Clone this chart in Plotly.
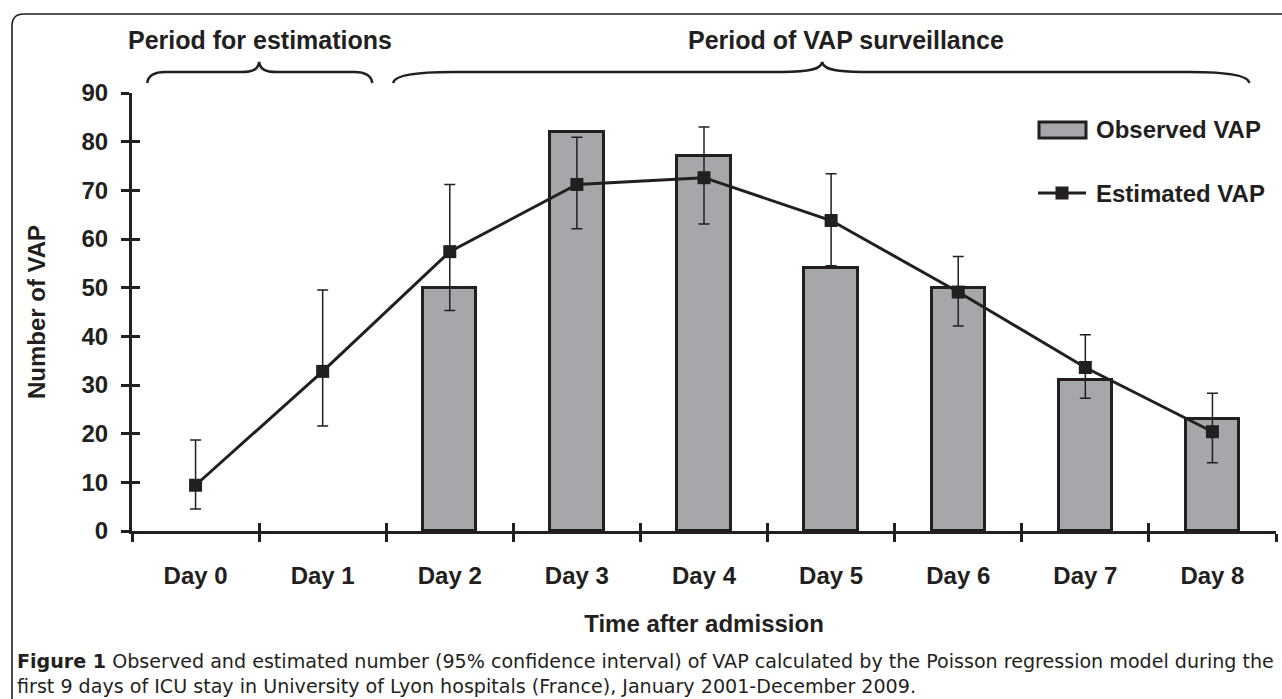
import plotly.graph_objects as go

# ---------------- data ----------------
days = ["Day 0", "Day 1", "Day 2", "Day 3", "Day 4", "Day 5", "Day 6", "Day 7", "Day 8"]
observed = [None, None, 50, 82, 77, 54, 50, 31, 23]
estimated = [9.4, 32.8, 57.4, 71.2, 72.6, 63.8, 49.1, 33.6, 20.4]
ci_lower = [4.5, 21.6, 45.3, 62.1, 63.1, 54.5, 42.1, 27.3, 14.0]
ci_upper = [18.7, 49.5, 71.2, 80.9, 83.0, 73.4, 56.4, 40.3, 28.3]
y_ticks = [0, 10, 20, 30, 40, 50, 60, 70, 80, 90]
series_names = ["Observed VAP", "Estimated VAP"]
period_labels = ["Period for estimations", "Period of VAP surveillance"]
x_title = "Time after admission"
y_title = "Number of VAP"
caption_1 = ("<b>Figure 1</b> Observed and estimated number (95% confidence interval) of VAP "
             "calculated by the Poisson regression model during the")
caption_2 = ("first 9 days of ICU stay in University of Lyon hospitals (France), "
             "January 2001-December 2009.")

# ---------------- style / geometry ----------------
W, H = 1282, 699
ML, MR, MT, MB = 132, 6, 93, 168
PW, PH = W - ML - MR, H - MT - MB
INK = "#231f20"
BAR_FILL = "#a6a7ab"
FONT = "Liberation Sans, Arial, sans-serif"
CAP_FONT = "DejaVu Sans, Open Sans, sans-serif"
n = len(days)


def px(xp):
    return (xp - ML) / PW


def py(yp):
    return 1 - (yp - MT) / PH


def cat_px(idx):
    # category index -> pixel x (category axis range [-0.5, n-0.5])
    return ML + (idx + 0.5) / n * PW


err_plus = [u - e for u, e in zip(ci_upper, estimated)]
err_minus = [e - l for e, l in zip(estimated, ci_lower)]

fig = go.Figure()
fig.add_trace(go.Bar(
    x=days, y=observed, name=series_names[0], width=0.42,
    marker=dict(color=BAR_FILL, line=dict(color=INK, width=3)),
    showlegend=False,
))
fig.add_trace(go.Scatter(
    x=days, y=estimated, name=series_names[1], mode="lines+markers",
    line=dict(color=INK, width=3),
    marker=dict(symbol="square", size=13, color=INK),
    error_y=dict(type="data", array=err_plus, arrayminus=err_minus,
                 color=INK, thickness=1.5, width=5.5),
    showlegend=False,
))
# invisible trace so that the overlay axes (inner tick halves) are drawn
fig.add_trace(go.Scatter(x=days, y=[None] * n, xaxis="x2", yaxis="y2",
                         mode="lines", showlegend=False, hoverinfo="skip"))

bold24 = dict(family=FONT, size=24, color=INK, weight="bold")

fig.update_layout(
    width=W, height=H,
    margin=dict(l=ML, r=MR, t=MT, b=MB),
    paper_bgcolor="white", plot_bgcolor="white",
    font=dict(family=FONT, color=INK),
    bargap=0,
    xaxis=dict(
        type="category", categoryorder="array", categoryarray=days,
        range=[-0.5, n - 0.5], tickson="boundaries",
        ticks="outside", ticklen=8, tickwidth=3, tickcolor=INK,
        showline=True, linewidth=3, linecolor=INK, showgrid=False, zeroline=False,
        tickfont=bold24, ticklabelstandoff=21,
        title=dict(text=x_title, font=bold24, standoff=28),
    ),
    yaxis=dict(
        range=[0, 90], tickvals=y_ticks,
        ticks="outside", ticklen=8, tickwidth=3, tickcolor=INK,
        showline=True, linewidth=3, linecolor=INK, showgrid=False, zeroline=False,
        tickfont=bold24, ticklabelstandoff=8,
        title=dict(text=y_title, font=bold24, standoff=30),
    ),
    xaxis2=dict(
        type="category", categoryorder="array", categoryarray=days,
        range=[-0.5, n - 0.5], tickson="boundaries", overlaying="x", anchor="y2", side="bottom",
        ticks="inside", ticklen=8, tickwidth=3, tickcolor=INK,
        showticklabels=False, showline=False, showgrid=False, zeroline=False,
    ),
    yaxis2=dict(
        range=[0, 90], tickvals=y_ticks, overlaying="y", anchor="x2", side="left",
        ticks="inside", ticklen=8, tickwidth=3, tickcolor=INK,
        showticklabels=False, showline=False, showgrid=False, zeroline=False,
    ),
)

# ---------------- decorations ----------------
shapes = []


def path_from_pixels(cmds):
    out = []
    for c in cmds:
        if isinstance(c, str):
            out.append(c)
        else:
            out.append("%.5f,%.5f" % (px(c[0]), py(c[1])))
    return " ".join(out)


# outer frame (rounded top-left corner)
frame = path_from_pixels(["M", (12, H + 20), "L", (12, 26), "Q", (12, 14), (24, 14), "L", (W + 20, 14)])
shapes.append(dict(type="path", xref="paper", yref="paper", path=frame,
                   line=dict(color=INK, width=1.6)))


def brace(i0, it, i1, end_curl, tip_curl, yb=72, ytip=62, yend=83):
    x0, xt, x1 = cat_px(i0), cat_px(it), cat_px(i1)
    return path_from_pixels([
        "M", (x0, yend),
        "C", (x0 + 1, yb + 3), (x0 + end_curl * 0.4, yb), (x0 + end_curl, yb),
        "L", (xt - tip_curl, yb),
        "C", (xt - tip_curl * 0.3, yb), (xt - 1, yb - 3), (xt, ytip),
        "C", (xt + 1, yb - 3), (xt + tip_curl * 0.3, yb), (xt + tip_curl, yb),
        "L", (x1 - end_curl, yb),
        "C", (x1 - end_curl * 0.4, yb), (x1 - 1, yb + 3), (x1, yend),
    ])


shapes.append(dict(type="path", xref="paper", yref="paper",
                   path=brace(-0.38, 0.5, 1.39, 18, 18), line=dict(color=INK, width=2.5)))
shapes.append(dict(type="path", xref="paper", yref="paper",
                   path=brace(1.555, 4.93, 8.29, 60, 40), line=dict(color=INK, width=2.5)))

# legend keys
shapes.append(dict(type="rect", xref="paper", yref="paper",
                   x0=px(1039), x1=px(1086), y0=py(122), y1=py(138),
                   fillcolor=BAR_FILL, line=dict(color=INK, width=3)))
shapes.append(dict(type="line", xref="paper", yref="paper",
                   x0=px(1038), x1=px(1086), y0=py(193), y1=py(193),
                   line=dict(color=INK, width=3)))
shapes.append(dict(type="rect", xref="paper", yref="paper",
                   x0=px(1055.5), x1=px(1068.5), y0=py(186.5), y1=py(199.5),
                   fillcolor=INK, line=dict(color=INK, width=0)))

bold25 = dict(family=FONT, size=25, color=INK, weight="bold")
cap_font = dict(family=CAP_FONT, size=19.1, color=INK)
annotations = [
    dict(text=period_labels[0], x=px(260), y=py(40), xref="paper", yref="paper",
         showarrow=False, xanchor="center", yanchor="middle", font=bold25),
    dict(text=period_labels[1], x=px(846), y=py(40), xref="paper", yref="paper",
         showarrow=False, xanchor="center", yanchor="middle", font=bold25),
    dict(text=series_names[0], x=px(1094), y=py(129), xref="paper", yref="paper",
         showarrow=False, xanchor="left", yanchor="middle", font=bold24),
    dict(text=series_names[1], x=px(1094), y=py(193), xref="paper", yref="paper",
         showarrow=False, xanchor="left", yanchor="middle", font=bold24),
    dict(text=caption_1 + "<br>" + caption_2, x=px(16), y=py(673.5), xref="paper", yref="paper",
         showarrow=False, xanchor="left", yanchor="middle", align="left",
         borderpad=0, font=cap_font),
]
fig.update_layout(shapes=shapes, annotations=annotations)

fig.write_html("out.html", include_plotlyjs=True, config={"displayModeBar": False},
               post_script="document.body.style.margin='0';document.body.style.overflow='hidden';")
